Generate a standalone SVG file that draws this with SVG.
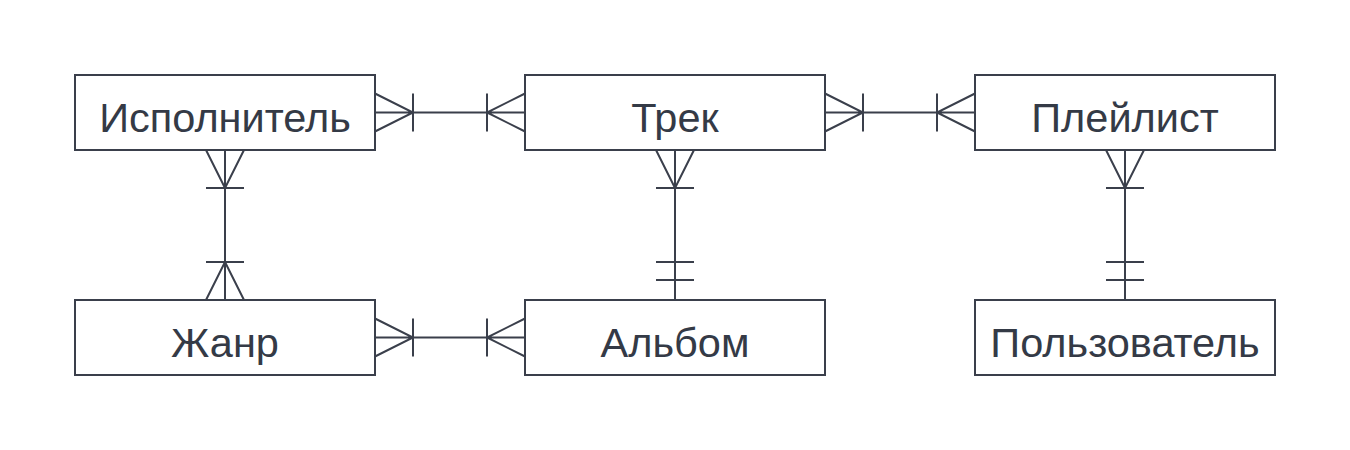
<svg xmlns="http://www.w3.org/2000/svg" width="1350" height="450" viewBox="0 0 1350 450">
<style>
.box{fill:#ffffff;stroke:#3a3f4b;stroke-width:2}
.t{font-family:"Liberation Sans",Arial,sans-serif;font-size:41.5px;fill:#343a46;text-anchor:middle}
.c{stroke:#3a3f4b;stroke-width:2;fill:none}
</style>
<rect width="1350" height="450" fill="#ffffff"/>
<g id="connectors" class="c">
  <!-- Исполнитель - Трек -->
  <path d="M375 112.5H525 M375 93.5L413 112.5L375 131.5 M413 93.5V131.5 M525 93.5L487 112.5L525 131.5 M487 93.5V131.5"/>
  <!-- Трек - Плейлист -->
  <path d="M825 112.5H975 M825 93.5L863 112.5L825 131.5 M863 93.5V131.5 M975 93.5L937 112.5L975 131.5 M937 93.5V131.5"/>
  <!-- Жанр - Альбом -->
  <path d="M375 337.5H525 M375 318.5L413 337.5L375 356.5 M413 318.5V356.5 M525 318.5L487 337.5L525 356.5 M487 318.5V356.5"/>
  <!-- Исполнитель - Жанр -->
  <path d="M225 150V300 M206 150L225 188L244 150 M206 188H244 M206 300L225 262L244 300 M206 262H244"/>
  <!-- Трек - Альбом -->
  <path d="M675 150V300 M656 150L675 188L694 150 M656 188H694 M656 262H694 M656 280H694"/>
  <!-- Плейлист - Пользователь -->
  <path d="M1125 150V300 M1106 150L1125 188L1144 150 M1106 188H1144 M1106 262H1144 M1106 280H1144"/>
</g>
<g id="ispolnitel"><rect class="box" x="75" y="75" width="300" height="75"/><text class="t" x="225" y="132">Исполнитель</text></g>
<g id="trek"><rect class="box" x="525" y="75" width="300" height="75"/><text class="t" x="675" y="132">Трек</text></g>
<g id="pleylist"><rect class="box" x="975" y="75" width="300" height="75"/><text class="t" x="1125" y="132">Плейлист</text></g>
<g id="zhanr"><rect class="box" x="75" y="300" width="300" height="75"/><text class="t" x="225" y="357">Жанр</text></g>
<g id="albom"><rect class="box" x="525" y="300" width="300" height="75"/><text class="t" x="675" y="357">Альбом</text></g>
<g id="polzovatel"><rect class="box" x="975" y="300" width="300" height="75"/><text class="t" x="1125" y="357">Пользователь</text></g>
</svg>
